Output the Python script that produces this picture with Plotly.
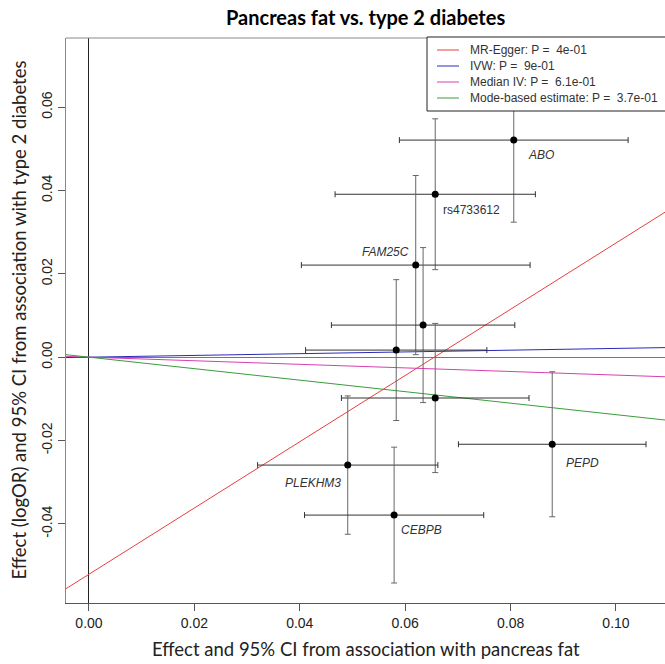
import plotly.graph_objects as go

# ---- data ----
snp_names = ["ABO", "rs4733612", "FAM25C", "", "", "", "PEPD", "PLEKHM3", "CEBPB"]
snp_italic = [True, False, True, False, False, False, True, True, True]
bx = [0.0806, 0.0657, 0.0620, 0.0634, 0.0583, 0.0657, 0.0879, 0.0491, 0.0579]
bx_err = [0.0217, 0.0190, 0.0217, 0.0174, 0.0172, 0.0178, 0.0178, 0.0171, 0.0170]
by = [0.0521, 0.0391, 0.0221, 0.0077, 0.0017, -0.0098, -0.0209, -0.0259, -0.0379]
by_err = [0.0197, 0.0181, 0.0215, 0.0186, 0.0169, 0.0179, 0.0174, 0.0166, 0.0163]

methods = ["MR-Egger", "IVW", "Median IV", "Mode-based estimate"]
method_p = ["4e-01", "9e-01", "6.1e-01", "3.7e-01"]
slopes = [0.795, 0.021, -0.043, -0.138]
intercepts = [-0.0521, 0.0, 0.0, 0.0]
method_colors = ["#e8403c", "#2a2ab8", "#d83fb0", "#3a9c3a"]

x_ticks = [0.00, 0.02, 0.04, 0.06, 0.08, 0.10]
x_ticktext = ["0.00", "0.02", "0.04", "0.06", "0.08", "0.10"]
y_ticks = [-0.04, -0.02, 0.00, 0.02, 0.04, 0.06]
y_ticktext = ["-0.04", "-0.02", "0.00", "0.02", "0.04", "0.06"]

X_RANGE = [-0.00436, 0.1093]
Y_RANGE = [-0.0590, 0.0766]

W, H = 665, 664
ML, MR, MT, MB = 66, 0, 38, 61
PW, PH = W - ML - MR, H - MT - MB

def px_x(p):
    return (p - ML) / PW

def px_y(p):
    return 1 - (p - MT) / PH

# label offsets in px (style)
label_shift = [(27, -15), (36, -16), (-30, 13), (0, 0), (0, 0), (0, 0), (30, -19), (-35, -18), (27, -15)]

fig = go.Figure()

# regression lines
for name, s, c, col in zip(methods, slopes, intercepts, method_colors):
    xs = list(X_RANGE)
    ys = [c + s * v for v in xs]
    fig.add_trace(go.Scatter(
        x=xs, y=ys, mode="lines",
        line=dict(color=col, width=1),
        name=name, showlegend=False,
    ))

# SNP points with error bars
fig.add_trace(go.Scatter(
    x=bx, y=by, mode="markers",
    marker=dict(color="black", size=7),
    error_x=dict(type="data", array=bx_err, visible=True, color="#333333", thickness=1, width=3),
    error_y=dict(type="data", array=by_err, visible=True, color="#666666", thickness=1, width=3),
    showlegend=False,
))

annotations = []
for name, it, xv, yv, (dx, dy) in zip(snp_names, snp_italic, bx, by, label_shift):
    if not name:
        continue
    annotations.append(dict(
        x=xv, y=yv, xref="x", yref="y", showarrow=False,
        text=f"<i>{name}</i>" if it else name,
        xshift=dx, yshift=dy,
        font=dict(family="Liberation Sans, Arial", size=12, color="#333333"),
    ))

# titles
annotations.append(dict(
    text="<b>Pancreas fat vs. type 2 diabetes</b>", xref="paper", yref="paper",
    x=0.5, y=1, yanchor="middle", yshift=MT - 17, showarrow=False,
    font=dict(family="Lato", size=20, color="black"),
))
annotations.append(dict(
    text="Effect and 95% CI from association with pancreas fat", xref="paper", yref="paper",
    x=0.5, y=0, yanchor="middle", yshift=-(649 - (H - MB)), showarrow=False,
    font=dict(family="Lato", size=18.5, color="#222222"),
))
annotations.append(dict(
    text="Effect (logOR) and 95% CI from association with type 2 diabetes", xref="paper", yref="paper",
    x=0, y=0.5, xanchor="center", xshift=-(ML - 18), textangle=-90, showarrow=False,
    font=dict(family="Lato", size=18.5, color="#222222"),
))

# manual legend (box, line samples, texts)
shapes = [dict(type="line", xref="paper", yref="paper", x0=0, x1=1, y0=1, y1=1,
               line=dict(color="#888888", width=1))]
shapes.append(dict(type="rect", xref="paper", yref="paper",
                   x0=px_x(427), x1=px_x(W + 5), y0=px_y(111), y1=px_y(37),
                   fillcolor="white", line=dict(color="#222222", width=1), layer="above"))
row_y = [50, 66, 82, 98]
for name, p, col, ry in zip(methods, method_p, method_colors, row_y):
    shapes.append(dict(type="line", xref="paper", yref="paper",
                       x0=px_x(437), x1=px_x(459), y0=px_y(ry), y1=px_y(ry),
                       line=dict(color=col, width=1), layer="above"))
    annotations.append(dict(
        text=f"{name}: P = \u00a0{p}", xref="paper", yref="paper",
        x=px_x(468), y=px_y(ry), xanchor="left", yanchor="middle", showarrow=False,
        font=dict(family="Liberation Sans, Arial", size=12, color="#333333"),
    ))

fig.update_layout(
    width=W, height=H,
    margin=dict(l=ML, r=MR, t=MT, b=MB),
    paper_bgcolor="white", plot_bgcolor="white",
    annotations=annotations,
    shapes=shapes,
    showlegend=False,
    xaxis=dict(
        range=X_RANGE, tickvals=x_ticks, ticktext=x_ticktext,
        showgrid=False, zeroline=True, zerolinecolor="#222222", zerolinewidth=1,
        showline=True, linecolor="#555555", linewidth=1,
        ticks="outside", ticklen=7, tickcolor="#555555",
        tickfont=dict(family="Liberation Sans, Arial", size=14, color="#222222"),
    ),
    yaxis=dict(
        range=Y_RANGE, tickvals=y_ticks, ticktext=y_ticktext, tickangle=-90,
        showgrid=False, zeroline=True, zerolinecolor="#777777", zerolinewidth=1,
        showline=True, linecolor="#888888", linewidth=1,
        ticks="outside", ticklen=7, tickcolor="#555555",
        tickfont=dict(family="Liberation Sans, Arial", size=14, color="#222222"),
    ),
)

fig.write_html("out.html")
